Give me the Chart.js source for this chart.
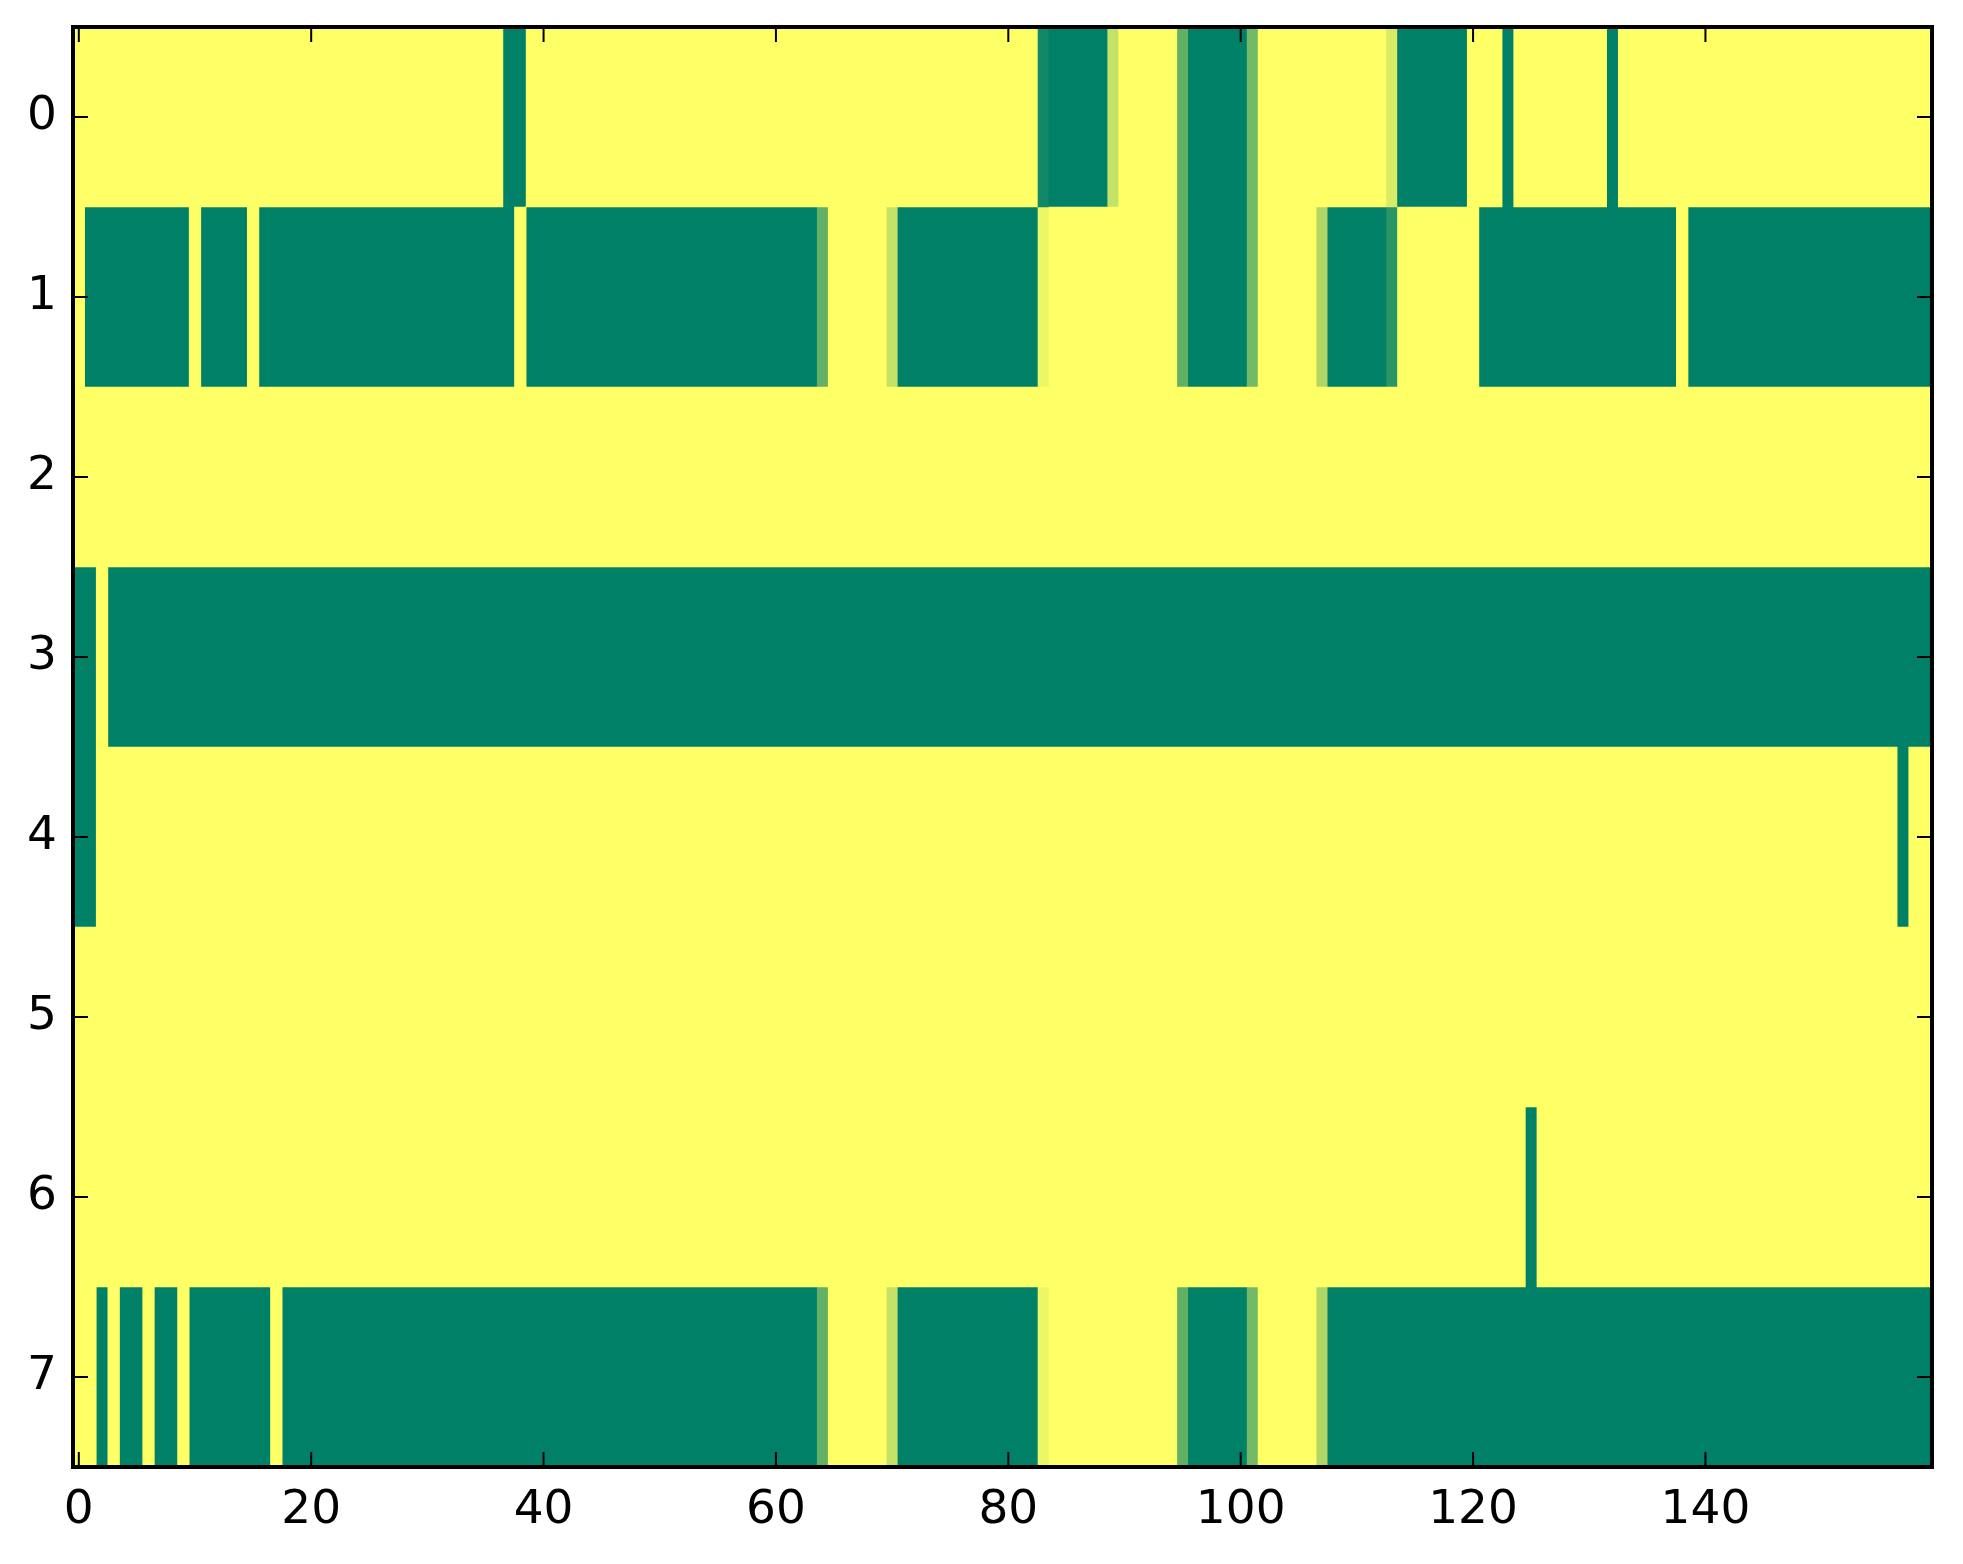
<!DOCTYPE html>
<html>
<head>
<meta charset="utf-8">
<script src="https://cdn.jsdelivr.net/npm/chart.js@4.4.0/dist/chart.umd.min.js"></script>
<style>
html, body { margin: 0; padding: 0; background: #fff; }
canvas { display: block; }
</style>
</head>
<body>
<canvas id="c" width="1963" height="1564"></canvas>
<script>
// ---- data ----
const rowLabels = ['0', '1', '2', '3', '4', '5', '6', '7'];
const xTicks = [0, 20, 40, 60, 80, 100, 120, 140];
const xMin = -0.5, xMax = 159.5;

// each row: runs of [value, number of columns], 160 columns per row
const row0 = [[1,37],[0,2],[1,44],[0.07,1],[0,5],[0.77,1],[1,5],[0.38,1],[0,5],[0.45,1],[1,11],[0.85,1],[0,6],[1,3],[0,1],[1,8],[0,1],[1,27]];
const row1 = [[1,1],[0,9],[1,1],[0,4],[1,1],[0,22],[1,1],[0,25],[0.38,1],[1,5],[0.77,1],[0,12],[0.93,1],[1,11],[0.38,1],[0,5],[0.45,1],[1,5],[0.69,1],[0,5],[0.16,1],[1,7],[0,17],[1,1],[0,21]];
const row2 = [[1,160]];
const row3 = [[0,2],[1,1],[0,157]];
const row4 = [[0,2],[1,155],[0,1],[1,2]];
const row5 = [[1,160]];
const row6 = [[1,125],[0,1],[1,34]];
const row7 = [[1,2],[0,1],[1,1],[0,2],[1,1],[0,2],[1,1],[0,7],[1,1],[0,46],[0.38,1],[1,5],[0.77,1],[0,12],[0.93,1],[1,11],[0.38,1],[0,5],[0.45,1],[1,5],[0.69,1],[0,52]];
const rows = [row0, row1, row2, row3, row4, row5, row6, row7];

// matplotlib "summer" colormap
function summer(v) {
  return 'rgb(' + Math.round(v * 255) + ',' + Math.round((0.5 + 0.5 * v) * 255) + ',102)';
}

// build one floating-bar dataset per colour level
const levels = [];
const byLevel = {};
rows.forEach((runs, r) => {
  let col = 0;
  runs.forEach(([v, n]) => {
    const key = String(v);
    if (!(key in byLevel)) { byLevel[key] = []; levels.push(v); }
    byLevel[key].push({ x: [col - 0.5, col + n - 0.5], y: rowLabels[r] });
    col += n;
  });
});
const datasets = levels.map(v => ({
  data: byLevel[String(v)],
  backgroundColor: summer(v),
  borderWidth: 0,
  borderSkipped: false,
  grouped: false,
  categoryPercentage: 1,
  barPercentage: 1
}));

const FONT = { family: "'DejaVu Sans', 'Liberation Sans', sans-serif", size: 47 };

const frame = {
  id: 'frame',
  beforeDatasetsDraw(chart) {
    const { ctx, chartArea: a } = chart;
    ctx.save();
    ctx.fillStyle = summer(1);
    ctx.fillRect(a.left, a.top, a.right - a.left, a.bottom - a.top);
    ctx.restore();
  },
  afterDatasetsDraw(chart) {
    const { ctx, chartArea: a, scales } = chart;
    const x = scales.x, y = scales.y;
    const L = 15;
    ctx.save();
    ctx.strokeStyle = '#000';
    ctx.lineWidth = 2;
    ctx.beginPath();
    xTicks.forEach(v => {
      const px = x.getPixelForValue(v);
      ctx.moveTo(px, a.bottom); ctx.lineTo(px, a.bottom - L);
      ctx.moveTo(px, a.top); ctx.lineTo(px, a.top + L);
    });
    rowLabels.forEach((lab, i) => {
      const py = y.getPixelForValue(i);
      ctx.moveTo(a.left, py); ctx.lineTo(a.left + L, py);
      ctx.moveTo(a.right, py); ctx.lineTo(a.right - L, py);
    });
    ctx.stroke();
    ctx.lineWidth = 4;
    ctx.strokeRect(a.left, a.top, a.right - a.left, a.bottom - a.top);
    ctx.restore();
  }
};

new Chart(document.getElementById('c'), {
  type: 'bar',
  data: { labels: rowLabels, datasets: datasets },
  plugins: [frame],
  options: {
    indexAxis: 'y',
    responsive: false,
    devicePixelRatio: 1,
    animation: false,
    layout: { padding: { left: 0, top: 27, right: 31, bottom: 0 } },
    plugins: { legend: { display: false }, tooltip: { enabled: false } },
    scales: {
      x: {
        type: 'linear',
        position: 'bottom',
        min: xMin,
        max: xMax,
        afterBuildTicks: s => { s.ticks = xTicks.map(v => ({ value: v })); },
        afterFit: s => { s.height = 97; s.paddingLeft = 0; s.paddingRight = 0; },
        grid: { display: false, drawTicks: false },
        border: { display: false },
        ticks: {
          font: FONT, color: '#000', padding: 16,
          maxRotation: 0, minRotation: 0, autoSkip: false,
          callback: v => String(v)
        }
      },
      y: {
        type: 'category',
        labels: rowLabels,
        offset: true,
        afterFit: s => { s.width = 73; s.paddingTop = 0; s.paddingBottom = 0; },
        grid: { display: false, drawTicks: false },
        border: { display: false },
        ticks: { font: FONT, color: '#000', padding: 16, autoSkip: false }
      }
    }
  }
});
</script>
</body>
</html>
